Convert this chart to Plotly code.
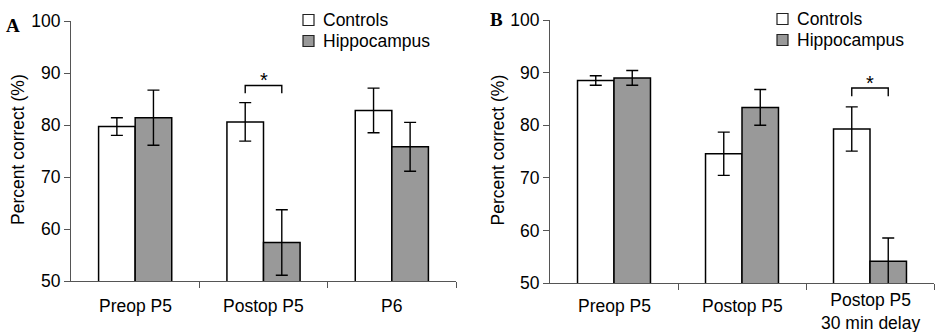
import plotly.graph_objects as go

# ---------------- data ----------------
cats_A = ["Preop P5", "Postop P5", "P6"]
ctrl_A = [79.7, 80.6, 82.8]
ctrl_A_err = [1.7, 3.7, 4.3]
hipp_A = [81.4, 57.4, 75.8]
hipp_A_err = [5.3, 6.3, 4.7]

cats_B = ["Preop P5", "Postop P5", "Postop P5<br>30 min delay"]
ctrl_B = [88.5, 74.6, 79.3]
ctrl_B_err = [0.9, 4.1, 4.2]
hipp_B = [89.0, 83.4, 54.2]
hipp_B_err = [1.4, 3.4, 4.4]

# significance brackets: (category index, top y, drop)
sig_A = (1, 87.6, 1.5)
sig_B = (2, 87.1, 1.6)

y_ticks = [50, 60, 70, 80, 90, 100]
series_names = ["Controls", "Hippocampus"]
y_title = "Percent correct (%)"
# --------------------------------------

FONT = "Liberation Sans, Arial, sans-serif"
FS = 17.5
AX = "#555555"
GRAY = "#999999"
BARGAP = 0.43
barw = (1 - BARGAP) / 2
fills = ["white", GRAY]

W, H = 935, 332
fig = go.Figure()

def add_panel(cats, ctrl, ce, hipp, he, xa, ya):
    idx = list(range(len(cats)))
    for name, vals, errs, fill in [(series_names[0], ctrl, ce, fills[0]),
                                   (series_names[1], hipp, he, fills[1])]:
        fig.add_trace(go.Bar(x=idx, y=vals, name=name, xaxis=xa, yaxis=ya, showlegend=False,
                             marker=dict(color=fill, line=dict(color="black", width=1.5)),
                             error_y=dict(type="data", array=errs, color="black",
                                          thickness=1.4, width=6)))

add_panel(cats_A, ctrl_A, ctrl_A_err, hipp_A, hipp_A_err, "x", "y")
add_panel(cats_B, ctrl_B, ctrl_B_err, hipp_B, hipp_B_err, "x2", "y2")

axis_common = dict(showline=True, linecolor=AX, linewidth=1.2, ticks="outside",
                   tickcolor=AX, ticklen=6, tickwidth=1.2, showgrid=False, zeroline=False,
                   automargin=False,
                   tickfont=dict(family=FONT, size=FS, color="black"))

def yaxis(domain, anchor):
    return dict(axis_common, domain=domain, anchor=anchor, range=[50, 100], tickvals=y_ticks)

def xaxis(domain, anchor, n):
    return dict(axis_common, domain=domain, anchor=anchor, range=[-0.5, n - 0.5],
                tickvals=[i + 0.5 for i in range(n)], showticklabels=False)

fig.update_layout(
    width=W, height=H, margin=dict(l=0, r=0, t=0, b=0, autoexpand=False),
    paper_bgcolor="white", plot_bgcolor="white",
    barmode="group", bargap=BARGAP, bargroupgap=0, showlegend=False,
    xaxis=xaxis([71 / W, 456 / W], "y", len(cats_A)),
    yaxis=yaxis([1 - 281 / H, 1 - 21 / H], "x"),
    xaxis2=xaxis([550 / W, 934 / W], "y2", len(cats_B)),
    yaxis2=yaxis([1 - 283.3 / H, 1 - 20 / H], "x2"),
)

shapes = []
annotations = []

# significance brackets and stars
for (idx, top, drop), xr, yr in [(sig_A, "x", "y"), (sig_B, "x2", "y2")]:
    x0 = idx - barw / 2
    x1 = idx + barw / 2
    shapes.append(dict(type="path", xref=xr, yref=yr,
                       path=f"M {x0} {top - drop} L {x0} {top} L {x1} {top} L {x1} {top - drop}",
                       line=dict(color="black", width=1.4)))
    annotations.append(dict(x=idx, y=top, xref=xr, yref=yr, text="*", showarrow=False,
                            xanchor="center", yanchor="bottom", yshift=-8,
                            font=dict(family=FONT, size=20, color="black")))

# category labels
for cats, xr, in [(cats_A, "x"), (cats_B, "x2")]:
    for i, c in enumerate(cats):
        two = "<br>" in c
        annotations.append(dict(x=i, xref=xr, y=1 - (311 if two else 306) / H, yref="paper",
                                text=c, showarrow=False, xanchor="center", yanchor="middle",
                                font=dict(family=FONT, size=FS, color="black")))

# y-axis titles
for tx in [18, 497.5]:
    annotations.append(dict(x=tx / W, y=1 - 150 / H, xref="paper", yref="paper", text=y_title,
                            textangle=-90, showarrow=False, xanchor="center", yanchor="middle",
                            font=dict(family=FONT, size=FS, color="black")))

# manual legends
for lx, ly in [(303, 20), (777, 19)]:
    for k, (name, fill) in enumerate(zip(series_names, fills)):
        cy = ly + 21 * k
        shapes.append(dict(type="rect", xref="paper", yref="paper",
                           x0=lx / W, x1=(lx + 11) / W, y0=1 - (cy - 5.5) / H, y1=1 - (cy + 5.5) / H,
                           fillcolor=fill, line=dict(color="#222222", width=1.2)))
        annotations.append(dict(x=(lx + 18) / W, y=1 - cy / H, xref="paper", yref="paper",
                                text=name, showarrow=False, xanchor="left", yanchor="middle",
                                font=dict(family=FONT, size=FS, color="black")))

# panel letters
serif = "Liberation Serif, Times New Roman, serif"
annotations.append(dict(x=12.5 / W, y=1 - 26 / H, xref="paper", yref="paper", text="<b>A</b>",
                        showarrow=False, xanchor="center", yanchor="middle",
                        font=dict(family=serif, size=19, color="black")))
annotations.append(dict(x=497 / W, y=1 - 19 / H, xref="paper", yref="paper", text="<b>B</b>",
                        showarrow=False, xanchor="center", yanchor="middle",
                        font=dict(family=serif, size=19, color="black")))

fig.update_layout(shapes=shapes, annotations=annotations)
fig.write_html("out.html", config={"displayModeBar": False},
               post_script="document.body.style.margin='0';document.body.style.overflow='hidden';")
